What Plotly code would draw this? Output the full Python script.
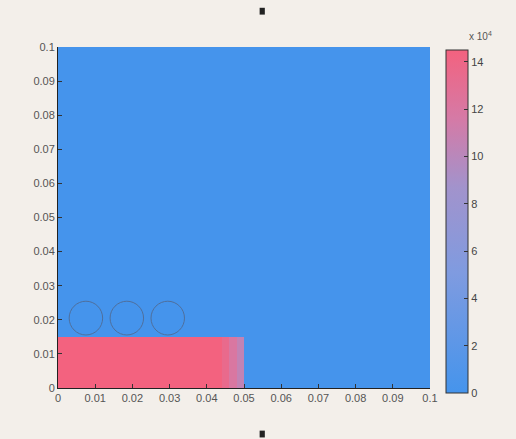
import plotly.graph_objects as go

# Data
x_edges = [0, 0.044, 0.046, 0.048, 0.05, 0.1]
y_edges = [0, 0.015, 0.1]
z_vals = [
    [14.5, 13.5, 12.0, 10.5, 0],
    [0, 0, 0, 0, 0],
]
circle_cx = [0.0075, 0.0185, 0.0295]
circle_cy = [0.0205, 0.0205, 0.0205]
circle_r = 0.0045
tick_vals = [0, 0.01, 0.02, 0.03, 0.04, 0.05, 0.06, 0.07, 0.08, 0.09, 0.1]
tick_text = ["0", "0.01", "0.02", "0.03", "0.04", "0.05", "0.06", "0.07", "0.08", "0.09", "0.1"]
cbar_ticks = [0, 2, 4, 6, 8, 10, 12, 14]

colorscale = [
    [0.0, "#4594ec"],
    [0.35, "#7f9be0"],
    [0.6, "#a293cc"],
    [0.8, "#d57aa6"],
    [1.0, "#f3627f"],
]

fig = go.Figure()
fig.add_trace(go.Heatmap(
    x=x_edges, y=y_edges, z=z_vals,
    zmin=0, zmax=14.5,
    colorscale=colorscale,
    showscale=True,
    colorbar=dict(
        x=1.043, xanchor="left", xref="paper",
        y=-0.015, yanchor="bottom", yref="paper",
        len=343, lenmode="pixels",
        thickness=22, thicknessmode="pixels",
        xpad=0, ypad=0,
        tickvals=cbar_ticks,
        ticks="inside", ticklen=4, tickcolor="#333",
        tickfont=dict(family="Liberation Sans Narrow, Arial Narrow, Arial", size=11, color="#444"),
        outlinecolor="#333", outlinewidth=1,
        bgcolor="rgba(0,0,0,0)",
    ),
))

for cx, cy in zip(circle_cx, circle_cy):
    fig.add_shape(type="circle", xref="x", yref="y",
                  x0=cx - circle_r, x1=cx + circle_r,
                  y0=cy - circle_r * 1.1, y1=cy + circle_r * 1.1,
                  line=dict(color="#4f6f9c", width=1))

axis_common = dict(
    tickvals=tick_vals, ticktext=tick_text,
    showgrid=False, zeroline=False,
    showline=True, linecolor="#222", linewidth=1, mirror=False,
    ticks="inside", ticklen=4, tickcolor="#333",
    tickfont=dict(family="Liberation Sans Narrow, Arial Narrow, Arial", size=11, color="#555"),
    range=[0, 0.1],
)
fig.update_xaxes(**axis_common)
fig.update_yaxes(**axis_common)

fig.add_annotation(text="x 10<sup>4</sup>", xref="paper", yref="paper",
                   x=1.10, y=1.01, xanchor="left", yanchor="bottom", showarrow=False,
                   font=dict(family="Liberation Sans Narrow, Arial", size=10, color="#555"))

# selection handles
fig.add_shape(type="rect", xref="paper", yref="paper", x0=0.542, x1=0.556, y0=1.095, y1=1.115,
              fillcolor="#222", line=dict(width=0))
fig.add_shape(type="rect", xref="paper", yref="paper", x0=0.542, x1=0.556, y0=-0.125, y1=-0.145,
              fillcolor="#222", line=dict(width=0))

fig.update_layout(
    width=516, height=439,
    margin=dict(l=58, r=86, t=47, b=51),
    paper_bgcolor="#f3efea",
    plot_bgcolor="#4594ec",
    showlegend=False,
)

fig.write_html("out.html")
